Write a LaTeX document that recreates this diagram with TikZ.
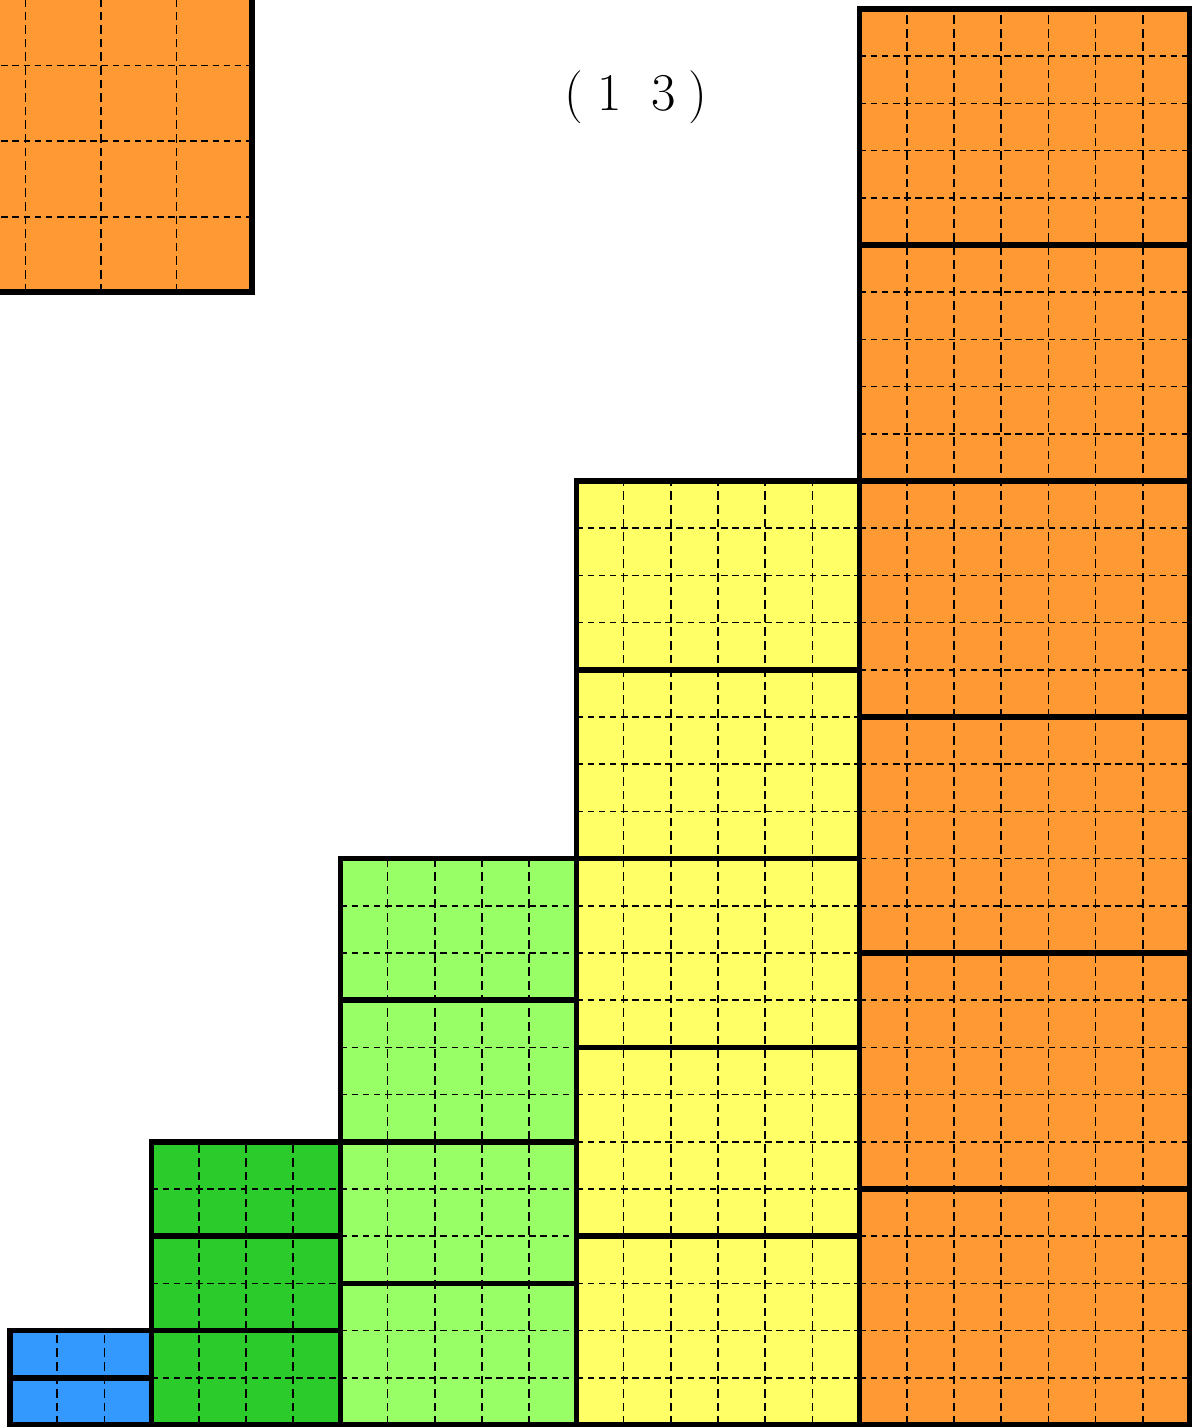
\documentclass[tikz,border=0pt]{standalone}
\definecolor{cblue}{RGB}{51,153,255}
\definecolor{cdgreen}{RGB}{42,203,42}
\definecolor{clgreen}{RGB}{153,255,102}
\definecolor{cyellow}{RGB}{255,255,102}
\definecolor{corange}{RGB}{255,153,51}
\tikzset{
  border/.style={line width=3.4pt, draw=black},
  hgrid/.style={line width=1pt, dash pattern=on 4pt off 2.7pt},
  vgrid/.style={line width=1pt, dash pattern=on 5.2pt off 3pt},
  lbl/.style={font=\fontsize{32}{38}\selectfont, anchor=base, inner sep=0pt}
}
% #1 x0, #2 width, #3 block height, #4 number of blocks, #5 colour
\newcommand\stackcolumn[5]{%
  \pgfmathtruncatemacro\totH{#3*#4}%
  \pgfmathtruncatemacro\wm{#2-1}%
  \pgfmathtruncatemacro\hm{\totH-1}%
  \pgfmathtruncatemacro\nm{#4-1}%
  \fill[#5] (#1,0) rectangle ++(#2,\totH);
  \foreach \xx in {1,...,\wm} { \draw[vgrid] (#1+\xx,0) -- (#1+\xx,\totH); }
  \foreach \yy in {1,...,\hm} { \draw[hgrid] (#1,\yy) -- (#1+#2,\yy); }
  \foreach \kk in {0,...,\nm} { \draw[border] (#1,{\kk*#3}) rectangle (#1+#2,{(\kk+1)*#3}); }
}
\begin{document}
\begin{tikzpicture}
\useasboundingbox (-0.212,-0.042) rectangle (25.042,30.191);
\clip (-0.212,-0.042) rectangle (25.042,30.191);
% large partial block at top left
\fill[corange] (-6.07,24) rectangle (5.13,32);
\foreach \k in {1,...,6} { \draw[vgrid] (5.13-1.6*\k,24) -- (5.13-1.6*\k,32); }
\foreach \k in {1,...,4} { \draw[hgrid] (-6.07,24+1.6*\k) -- (5.13,24+1.6*\k); }
\draw[border] (-6.07,24) rectangle (5.13,32);
% staircase
\stackcolumn{0}{3}{1}{2}{cblue}
\stackcolumn{3}{4}{2}{3}{cdgreen}
\stackcolumn{7}{5}{3}{4}{clgreen}
\stackcolumn{12}{6}{4}{5}{cyellow}
\stackcolumn{18}{7}{5}{6}{corange}
% label
\node[lbl] (label) at (13.25,27.84) {\makebox[10.9pt][c]{(}\makebox[32.5pt][c]{1}\makebox[32.5pt][c]{3}\makebox[9.7pt][c]{)}};
\end{tikzpicture}
\end{document}
